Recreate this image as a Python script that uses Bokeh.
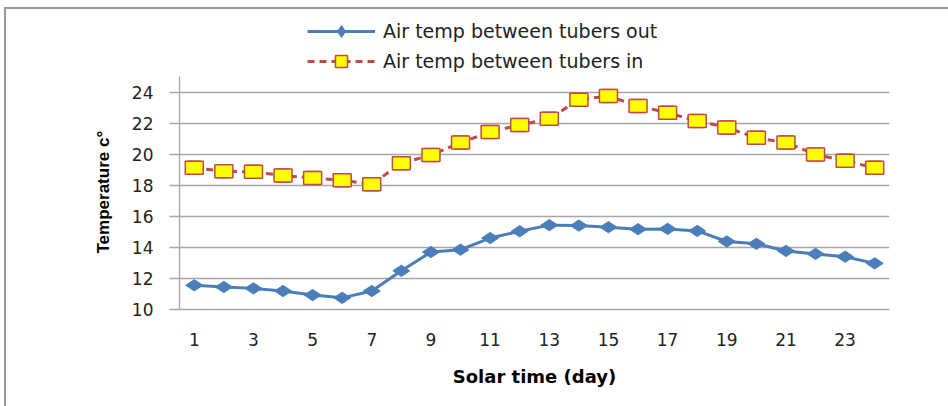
from bokeh.plotting import figure
from bokeh.models import Legend, LegendItem, FixedTicker, Range1d, Title
from bokeh.embed import file_html
from bokeh.resources import INLINE
import math

days = list(range(1, 25))
temp_out = [11.56, 11.45, 11.36, 11.19, 10.93, 10.75, 11.19, 12.49, 13.70, 13.85,
            14.60, 15.04, 15.43, 15.40, 15.30, 15.17, 15.19, 15.06, 14.38, 14.23,
            13.77, 13.58, 13.40, 12.97]
temp_in = [19.12, 18.90, 18.86, 18.62, 18.47, 18.32, 18.06, 19.42, 19.94, 20.75,
           21.42, 21.88, 22.28, 23.51, 23.74, 23.10, 22.67, 22.13, 21.72, 21.05,
           20.75, 19.98, 19.57, 19.12]
x_ticks = [1, 3, 5, 7, 9, 11, 13, 15, 17, 19, 21, 23]
y_ticks = [10, 12, 14, 16, 18, 20, 22, 24]
y_min, y_max = 10, 25
name_out = "Air temp between tubers out"
name_in = "Air temp between tubers in"
x_title = "Solar time (day)"
y_title = "Temperature c\u00b0"

BLUE = "#4A7EBB"
RED = "#BE4B48"
GRID = "#A6A6A6"

# layout: plot area 76..309 px holds y 10..25; frame extended upward to hold the legend
PLOT_TOP, PLOT_BOTTOM, FRAME_TOP = 76, 309, 16
px_per_unit = (PLOT_BOTTOM - PLOT_TOP) / (y_max - y_min)
y_frame_top = y_min + (PLOT_BOTTOM - FRAME_TOP) / px_per_unit

p = figure(width=948, height=406, output_backend="svg", toolbar_location=None,
           x_range=Range1d(0.5, 24.5), y_range=Range1d(y_min, y_frame_top),
           min_border_left=179, min_border_right=59, min_border_top=FRAME_TOP,
           min_border_bottom=406 - PLOT_BOTTOM)
p.background_fill_color = "white"
p.border_fill_alpha = 0
p.outline_line_color = None
# outer chart border (left and top edges visible in the reference)
p.styles = {"box-shadow": "inset 4px 7px 0 0 #ffffff, inset 6px 9px 0 0 #999999"}

p.xgrid.visible = False
p.ygrid.ticker = FixedTicker(ticks=y_ticks)
p.ygrid.grid_line_color = GRID
p.ygrid.grid_line_width = 1.3

p.xaxis.ticker = FixedTicker(ticks=x_ticks)
p.yaxis.ticker = FixedTicker(ticks=y_ticks)
p.yaxis.bounds = (y_min, y_max)
for ax in (p.xaxis, p.yaxis):
    ax.axis_line_color = GRID
    ax.axis_line_width = 1.3
    ax.major_tick_line_color = GRID
    ax.major_tick_line_width = 1.3
    ax.minor_tick_line_color = None
    ax.major_label_text_font = "DejaVu Sans"
    ax.major_label_text_font_size = "17px"
    ax.major_label_text_color = "#222222"
    ax.axis_label_text_color = "#000000"
    ax.axis_label_text_font_style = "bold"

p.xaxis.major_tick_out = 0
p.xaxis.major_tick_in = 0
p.xaxis.major_label_standoff = 23
p.xaxis.axis_label = x_title
p.xaxis.axis_label_text_font = "DejaVu Sans"
p.xaxis.axis_label_text_font_size = "18px"
p.xaxis.axis_label_standoff = 17

p.yaxis.major_tick_out = 10
p.yaxis.major_tick_in = 0
p.yaxis.major_label_standoff = 16

# y-axis title placed along the 10..25 plot area rather than the whole frame
p.add_layout(Title(text=y_title, align="left", offset=56, standoff=32,
                   text_font="Liberation Sans", text_font_size="17px",
                   text_font_style="bold", text_color="#000000"), "left")

l_out = p.line(days, temp_out, line_color=BLUE, line_width=3)
s_out = p.scatter(days, temp_out, marker="diamond", size=17, angle=math.pi / 2,
                  fill_color=BLUE, line_color=BLUE)

l_in = p.line(days, temp_in, line_color=RED, line_width=3, line_dash="7 5")
s_in = p.scatter(days, temp_in, marker="square", size=13, fill_color="#FFFF00",
                 line_color=RED, line_width=1.5)
p.rect(days, temp_in, width=18, height=13, width_units="screen", height_units="screen",
       fill_color="#FFFF00", line_color=RED, line_width=1.5)

legend = Legend(items=[LegendItem(label=name_out, renderers=[l_out, s_out]),
                       LegendItem(label=name_in, renderers=[l_in, s_in])],
                location=(128, PLOT_TOP - FRAME_TOP + (PLOT_BOTTOM - PLOT_TOP) - 60))
legend.glyph_width = 68
legend.glyph_height = 30
legend.label_height = 30
legend.label_standoff = 8
legend.spacing = 0
legend.padding = 0
legend.margin = 0
legend.border_line_color = None
legend.background_fill_alpha = 0
legend.label_text_font = "DejaVu Sans"
legend.label_text_font_size = "19px"
legend.label_text_color = "#222222"
p.add_layout(legend, "center")

open("out.html", "w").write(file_html(p, INLINE))
